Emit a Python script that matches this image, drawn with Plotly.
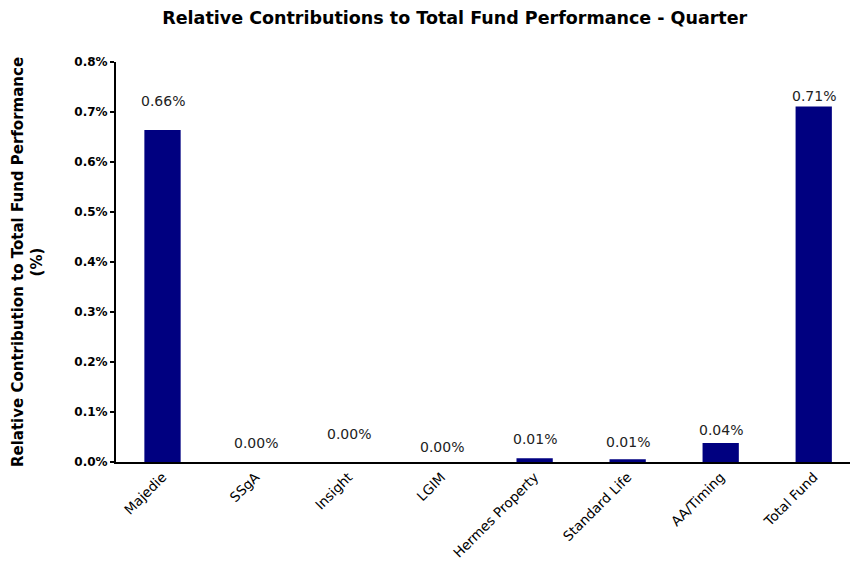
import plotly.graph_objects as go

categories = ["Majedie", "SSgA", "Insight", "LGIM", "Hermes Property",
              "Standard Life", "AA/Timing", "Total Fund"]
values = [0.664, 0.0, 0.0, 0.0, 0.0075, 0.0055, 0.038, 0.711]
# per-label vertical offset above bar top (px), mimicking the manually placed labels
label_offsets = [29, 19, 28, 15, 19, 17, 13, 11]

FONT = "Verdana, DejaVu Sans, sans-serif"

fig = go.Figure()
fig.add_trace(go.Bar(
    x=categories, y=values,
    marker=dict(color="#000080", line=dict(width=0)),
    width=0.39,
    hoverinfo="skip",
))

for c, v, off in zip(categories, values, label_offsets):
    fig.add_annotation(x=c, y=v, text=f"{v:.2f}%", showarrow=False,
                       yshift=off, yanchor="middle",
                       font=dict(family=FONT, size=14, color="#222222"))

fig.update_layout(
    width=850, height=566,
    margin=dict(l=116, r=0, t=62, b=104),
    paper_bgcolor="white", plot_bgcolor="white",
    showlegend=False,
    title=dict(text="<b>Relative Contributions to Total Fund Performance - Quarter</b>",
               x=0.535, xanchor="center", y=0.968, yanchor="middle",
               font=dict(family=FONT, size=17.5, color="black")),
    font=dict(family=FONT, color="black"),
)
fig.update_xaxes(
    range=[-0.5, 7.39], showline=True, linecolor="black", linewidth=2,
    ticks="", tickangle=-45, tickfont=dict(family=FONT, size=13.5, color="black"),
    showgrid=False, zeroline=False,
)
fig.update_yaxes(
    range=[0, 0.8], dtick=0.1, tickformat=".1f", ticksuffix="%",
    showline=True, linecolor="black", linewidth=2,
    ticks="outside", ticklen=4, tickwidth=2, tickcolor="black",
    tickfont=dict(family=FONT, size=12, color="black", weight="bold"),
    showgrid=False, zeroline=False,
    title=dict(text="<b>Relative Contribution to Total Fund Performance<br>(%)</b>",
               font=dict(family=FONT, size=15, color="black"), standoff=28),
)

fig.write_html("out.html")
